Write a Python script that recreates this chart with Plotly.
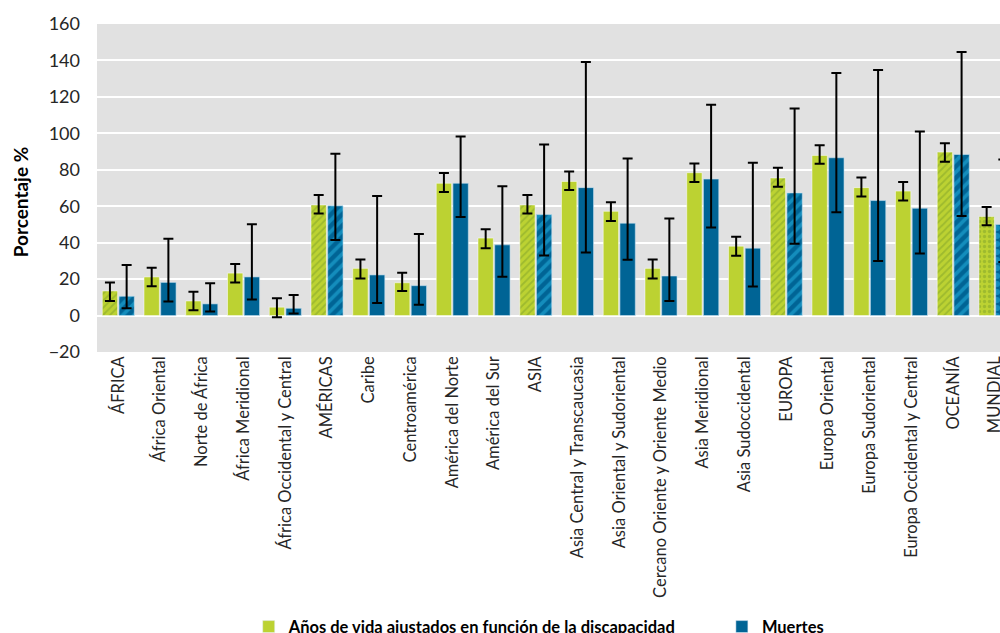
import plotly.graph_objects as go

# Regions and aggregates (x categories)
regions = [
    "ÁFRICA", "África Oriental", "Norte de África", "África Meridional",
    "África Occidental y Central", "AMÉRICAS", "Caribe", "Centroamérica",
    "América del Norte", "América del Sur", "ASIA", "Asia Central y Transcaucasia",
    "Asia Oriental y Sudoriental", "Cercano Oriente y Oriente Medio",
    "Asia Meridional", "Asia Sudoccidental", "EUROPA", "Europa Oriental",
    "Europa Sudoriental", "Europa Occidental y Central", "OCEANÍA", "MUNDIAL",
]

# Disability-adjusted life years (%) with uncertainty bounds
daly = [13.5, 21.2, 8.0, 23.3, 4.6, 60.7, 25.9, 18.0, 72.6, 42.5, 60.7,
        73.6, 57.2, 25.9, 78.4, 38.1, 75.5, 87.9, 70.2, 68.3, 89.7, 54.3]
daly_low = [8.0, 16.1, 2.9, 18.2, -0.9, 56.0, 20.4, 13.5, 67.8, 37.0, 56.0,
            68.9, 51.9, 20.4, 73.3, 32.8, 70.7, 83.3, 65.4, 63.1, 84.4, 49.6]
daly_high = [18.2, 26.3, 13.1, 28.3, 9.5, 66.2, 30.8, 23.5, 78.2, 47.4, 66.2,
             79.1, 62.2, 30.8, 83.5, 43.2, 81.1, 93.5, 75.7, 73.3, 94.6, 59.6]

# Deaths (%) with uncertainty bounds
deaths = [10.6, 18.2, 6.4, 21.2, 4.0, 60.2, 22.3, 16.4, 72.6, 38.8, 55.4,
          70.2, 50.7, 21.7, 74.9, 37.0, 67.3, 86.6, 63.1, 58.9, 88.4, 50.0]
deaths_low = [4.0, 7.7, 2.2, 8.8, 1.1, 41.4, 6.9, 5.9, 54.1, 21.3, 33.0,
              34.6, 30.6, 8.0, 48.3, 15.9, 39.4, 56.7, 29.9, 34.1, 54.7, 29.4]
deaths_high = [27.7, 42.1, 17.7, 50.1, 11.3, 88.8, 65.6, 44.8, 98.3, 70.9, 93.9,
               139.1, 86.2, 53.2, 115.7, 83.9, 113.6, 133.1, 134.7, 101.0, 144.7, 85.7]

series_names = ["Años de vida ajustados en función de la discapacidad", "Muertes"]

# Continental aggregates are hatched, the world total is dotted
aggregates = {"ÁFRICA", "AMÉRICAS", "ASIA", "EUROPA", "OCEANÍA"}
shapes = ["/" if r in aggregates else ("." if r == "MUNDIAL" else "") for r in regions]

GREEN = "#bcd232"
GREEN_FG = "#7fa12a"
BLUE = "#006495"
BLUE_FG = "#27b6e3"
FONT = "Lato"

def err(vals, lo, hi):
    return dict(
        type="data", symmetric=False,
        array=[h - v for v, h in zip(vals, hi)],
        arrayminus=[v - l for v, l in zip(vals, lo)],
        color="black", thickness=2, width=5,
    )

fig = go.Figure()
fig.add_trace(go.Bar(
    x=regions, y=daly, name=series_names[0], showlegend=False, offsetgroup="g",
    marker=dict(
        color=GREEN,
        line=dict(color="rgba(255,255,255,0.5)", width=1),
        pattern=dict(shape=shapes, fillmode="overlay", fgcolor=GREEN_FG,
                     size=5, solidity=0.35),
    ),
    error_y=err(daly, daly_low, daly_high),
))
fig.add_trace(go.Bar(
    x=regions, y=deaths, name=series_names[1], showlegend=False, offsetgroup="b",
    marker=dict(
        color=BLUE,
        line=dict(color="rgba(200,225,240,0.6)", width=1),
        pattern=dict(shape=shapes, fillmode="overlay", fgcolor=BLUE_FG,
                     size=8, solidity=0.45),
    ),
    error_y=err(deaths, deaths_low, deaths_high),
))

# Plain-coloured legend keys (the first category is hatched)
for name, col, grp, leg in zip(series_names, [GREEN, BLUE], ["g", "b"],
                               ["legend", "legend2"]):
    fig.add_trace(go.Bar(x=[None], y=[None], name=name, marker_color=col,
                         offsetgroup=grp, legend=leg, showlegend=True,
                         hoverinfo="skip"))

legend_style = dict(
    orientation="h", xanchor="left", y=-0.838, yanchor="middle",
    font=dict(size=16.5, family=FONT, color="black", weight="bold"),
    bgcolor="rgba(0,0,0,0)", itemwidth=30,
)

fig.update_layout(
    width=1000, height=633,
    margin=dict(l=97, r=0, t=24, b=281, pad=0, autoexpand=False),
    paper_bgcolor="white",
    plot_bgcolor="#e1e1e1",
    barmode="group", bargap=0.2, bargroupgap=0.08,
    font=dict(family=FONT, color="#262626"),
    xaxis=dict(
        type="category", range=[-0.51, 21.12], automargin=False,
        tickangle=-90, tickfont=dict(size=16.5, family=FONT),
        showgrid=False, zeroline=False, ticks="",
    ),
    yaxis=dict(
        range=[-20, 160], dtick=20, automargin=False,
        tickfont=dict(size=18, family=FONT),
        gridcolor="white", gridwidth=2,
        zeroline=True, zerolinecolor="white", zerolinewidth=2,
        ticks="", ticklabelstandoff=16,
    ),
    showlegend=True,
    legend=dict(x=0.168, **legend_style),
    legend2=dict(x=0.692, **legend_style),
    annotations=[dict(
        text="<b>Porcentaje %</b>", textangle=-90,
        xref="paper", yref="paper", x=-0.085, y=0.457,
        xanchor="center", yanchor="middle", showarrow=False,
        font=dict(size=19, family=FONT, color="black"),
    )],
)

fig.write_html("out.html")
